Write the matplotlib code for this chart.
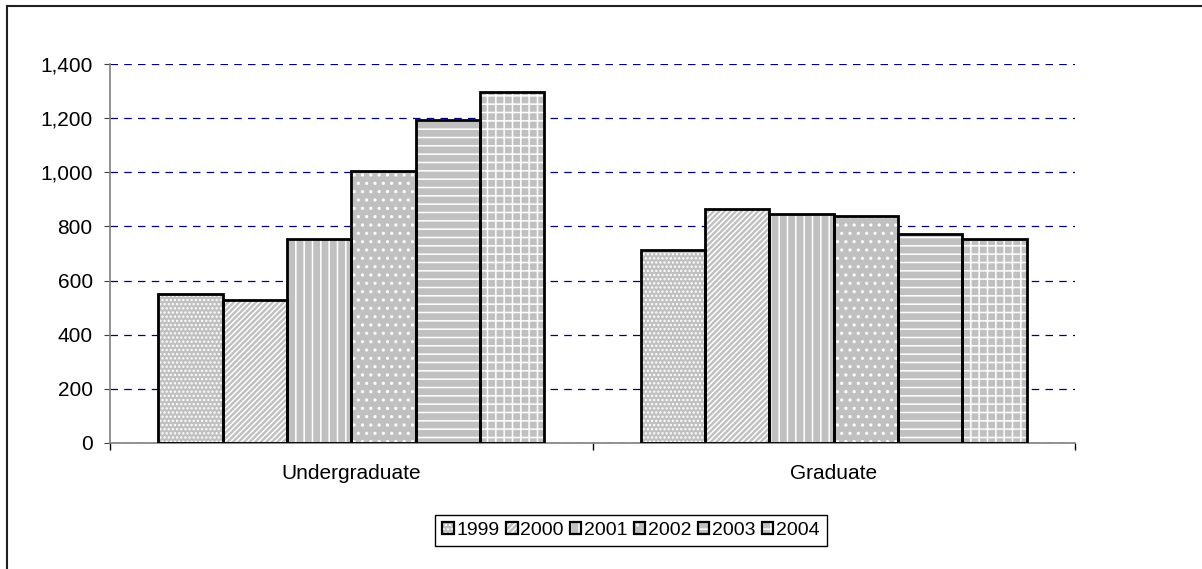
import matplotlib.pyplot as plt
from matplotlib.lines import Line2D
from matplotlib.patches import Patch
from matplotlib.ticker import FuncFormatter

# data
categories = ["Undergraduate", "Graduate"]
years = ["1999", "2000", "2001", "2002", "2003", "2004"]
undergrad = [550, 527, 754, 1005, 1193, 1297]
graduate = [713, 864, 846, 838, 773, 754]

hatches = ["....", "//////", "||", "..", "--", "++"]

plt.rcParams["font.family"] = ["Liberation Sans", "DejaVu Sans"]
plt.rcParams["hatch.color"] = "white"
plt.rcParams["hatch.linewidth"] = 1.1

fig = plt.figure(figsize=(12.02, 5.69), dpi=100)
ax = fig.add_axes([110 / 1202, 1 - 443 / 569, 965 / 1202, 379 / 569])

n = len(years)
w = 0.8 / n
x = range(len(categories))
handles = []
for i, yr in enumerate(years):
    vals = [undergrad[i], graduate[i]]
    pos = [c + (i - (n - 1) / 2) * w for c in x]
    # fill + white pattern, then black outline on top
    ax.bar(pos, vals, w, color="#c0c0c0", hatch=hatches[i], linewidth=0, zorder=2)
    ax.bar(pos, vals, w, fill=False, edgecolor="black", linewidth=2.0, zorder=3)
    h1 = Patch(facecolor="#c0c0c0", hatch=hatches[i], linewidth=0)
    h2 = Patch(fill=False, edgecolor="black", linewidth=1.6)
    handles.append((h1, h2))

ax.set_xlim(-0.5, 1.5)
ax.set_ylim(0, 1400)
ax.set_yticks(range(0, 1401, 200))
ax.yaxis.set_major_formatter(FuncFormatter(lambda v, p: f"{v:,.0f}"))
ax.yaxis.grid(True, color="#000080", linewidth=0.9, linestyle=(0, (6, 5)), zorder=1)
ax.set_axisbelow(True)

ax.set_xticks(list(x))
ax.set_xticklabels(categories)
ax.set_xticks([-0.5, 0.5, 1.5], minor=True)
ax.tick_params(axis="x", which="major", length=0, pad=15, labelsize=15)
ax.tick_params(axis="x", which="minor", length=5, color="black", width=1)
ax.tick_params(axis="y", length=4.5, color="#404040", pad=8, labelsize=15)

for s in ["top", "right"]:
    ax.spines[s].set_visible(False)
for s in ["left", "bottom"]:
    ax.spines[s].set_color("#808080")
    ax.spines[s].set_linewidth(1.2)

leg = fig.legend(handles, years, loc="center", ncol=6,
                 bbox_to_anchor=(631 / 1202, 1 - 530.5 / 569),
                 fontsize=14, handlelength=0.6, handleheight=0.6,
                 handletextpad=0.15, columnspacing=0.3, borderpad=0.35,
                 borderaxespad=0, fancybox=False, framealpha=1)
leg.get_frame().set_edgecolor("black")
leg.get_frame().set_linewidth(1.0)

# outer chart border (only top and left fall inside the picture)
fig.add_artist(Line2D([6.5 / 1202, 6.5 / 1202], [0, 1 - 5.5 / 569],
                      color="#202020", linewidth=1.5))
fig.add_artist(Line2D([6.5 / 1202, 1], [1 - 5.5 / 569, 1 - 5.5 / 569],
                      color="#202020", linewidth=1.5))

fig.savefig("out.png", dpi=100)
